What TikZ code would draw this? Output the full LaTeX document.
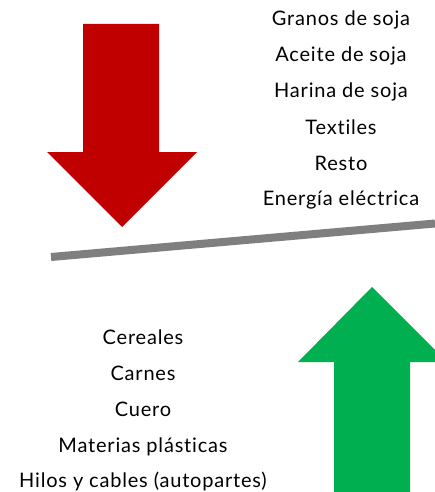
\documentclass[tikz,border=0pt]{standalone}
\usepackage{fontspec}
\setmainfont[Ligatures=NoCommon,LetterSpace=4]{Lato}
\definecolor{redarrow}{HTML}{C00000}
\definecolor{greenarrow}{HTML}{00B050}
\definecolor{bar}{HTML}{7F7F7F}
\begin{document}
\begin{tikzpicture}[x=1pt,y=-1pt,
  lbl/.style={anchor=base,inner sep=0pt,font=\fontsize{20}{22}\selectfont}]
\useasboundingbox (0,0) rectangle (435,492);
\fill[white] (0,0) rectangle (435,492);
% red arrow down
\fill[redarrow] (83,24) -- (159,24) -- (159,152) -- (197,152) -- (122,227) -- (47,152) -- (83,152) -- cycle;
% green arrow up
\begin{scope}
\clip (0,0) rectangle (435,492);
\fill[greenarrow] (334,492) -- (334,362) -- (298,362) -- (372,287) -- (447,362) -- (410,362) -- (410,492) -- cycle;
\end{scope}
% bar
\coordinate (b1) at (51,257);
\coordinate (b2) at (435,223.5);
\draw[bar,line width=8pt] (b1) -- (b2);
% right list
\node[lbl] (r1) at (341,26) {Granos de soja};
\node[lbl] (r2) at (341,62) {Aceite de soja};
\node[lbl] (r3) at (341,98) {Harina de soja};
\node[lbl] (r4) at (341,134) {Textiles};
\node[lbl] (r5) at (341,170) {Resto};
\node[lbl] (r6) at (341,205) {Energía eléctrica};
% left list
\node[lbl] (l1) at (143,344) {Cereales};
\node[lbl] (l2) at (143,380) {Carnes};
\node[lbl] (l3) at (143,416) {Cuero};
\node[lbl] (l4) at (143,452) {Materias plásticas};
\node[lbl] (l5) at (143,487) {Hilos y cables (autopartes)};
\end{tikzpicture}
\end{document}
